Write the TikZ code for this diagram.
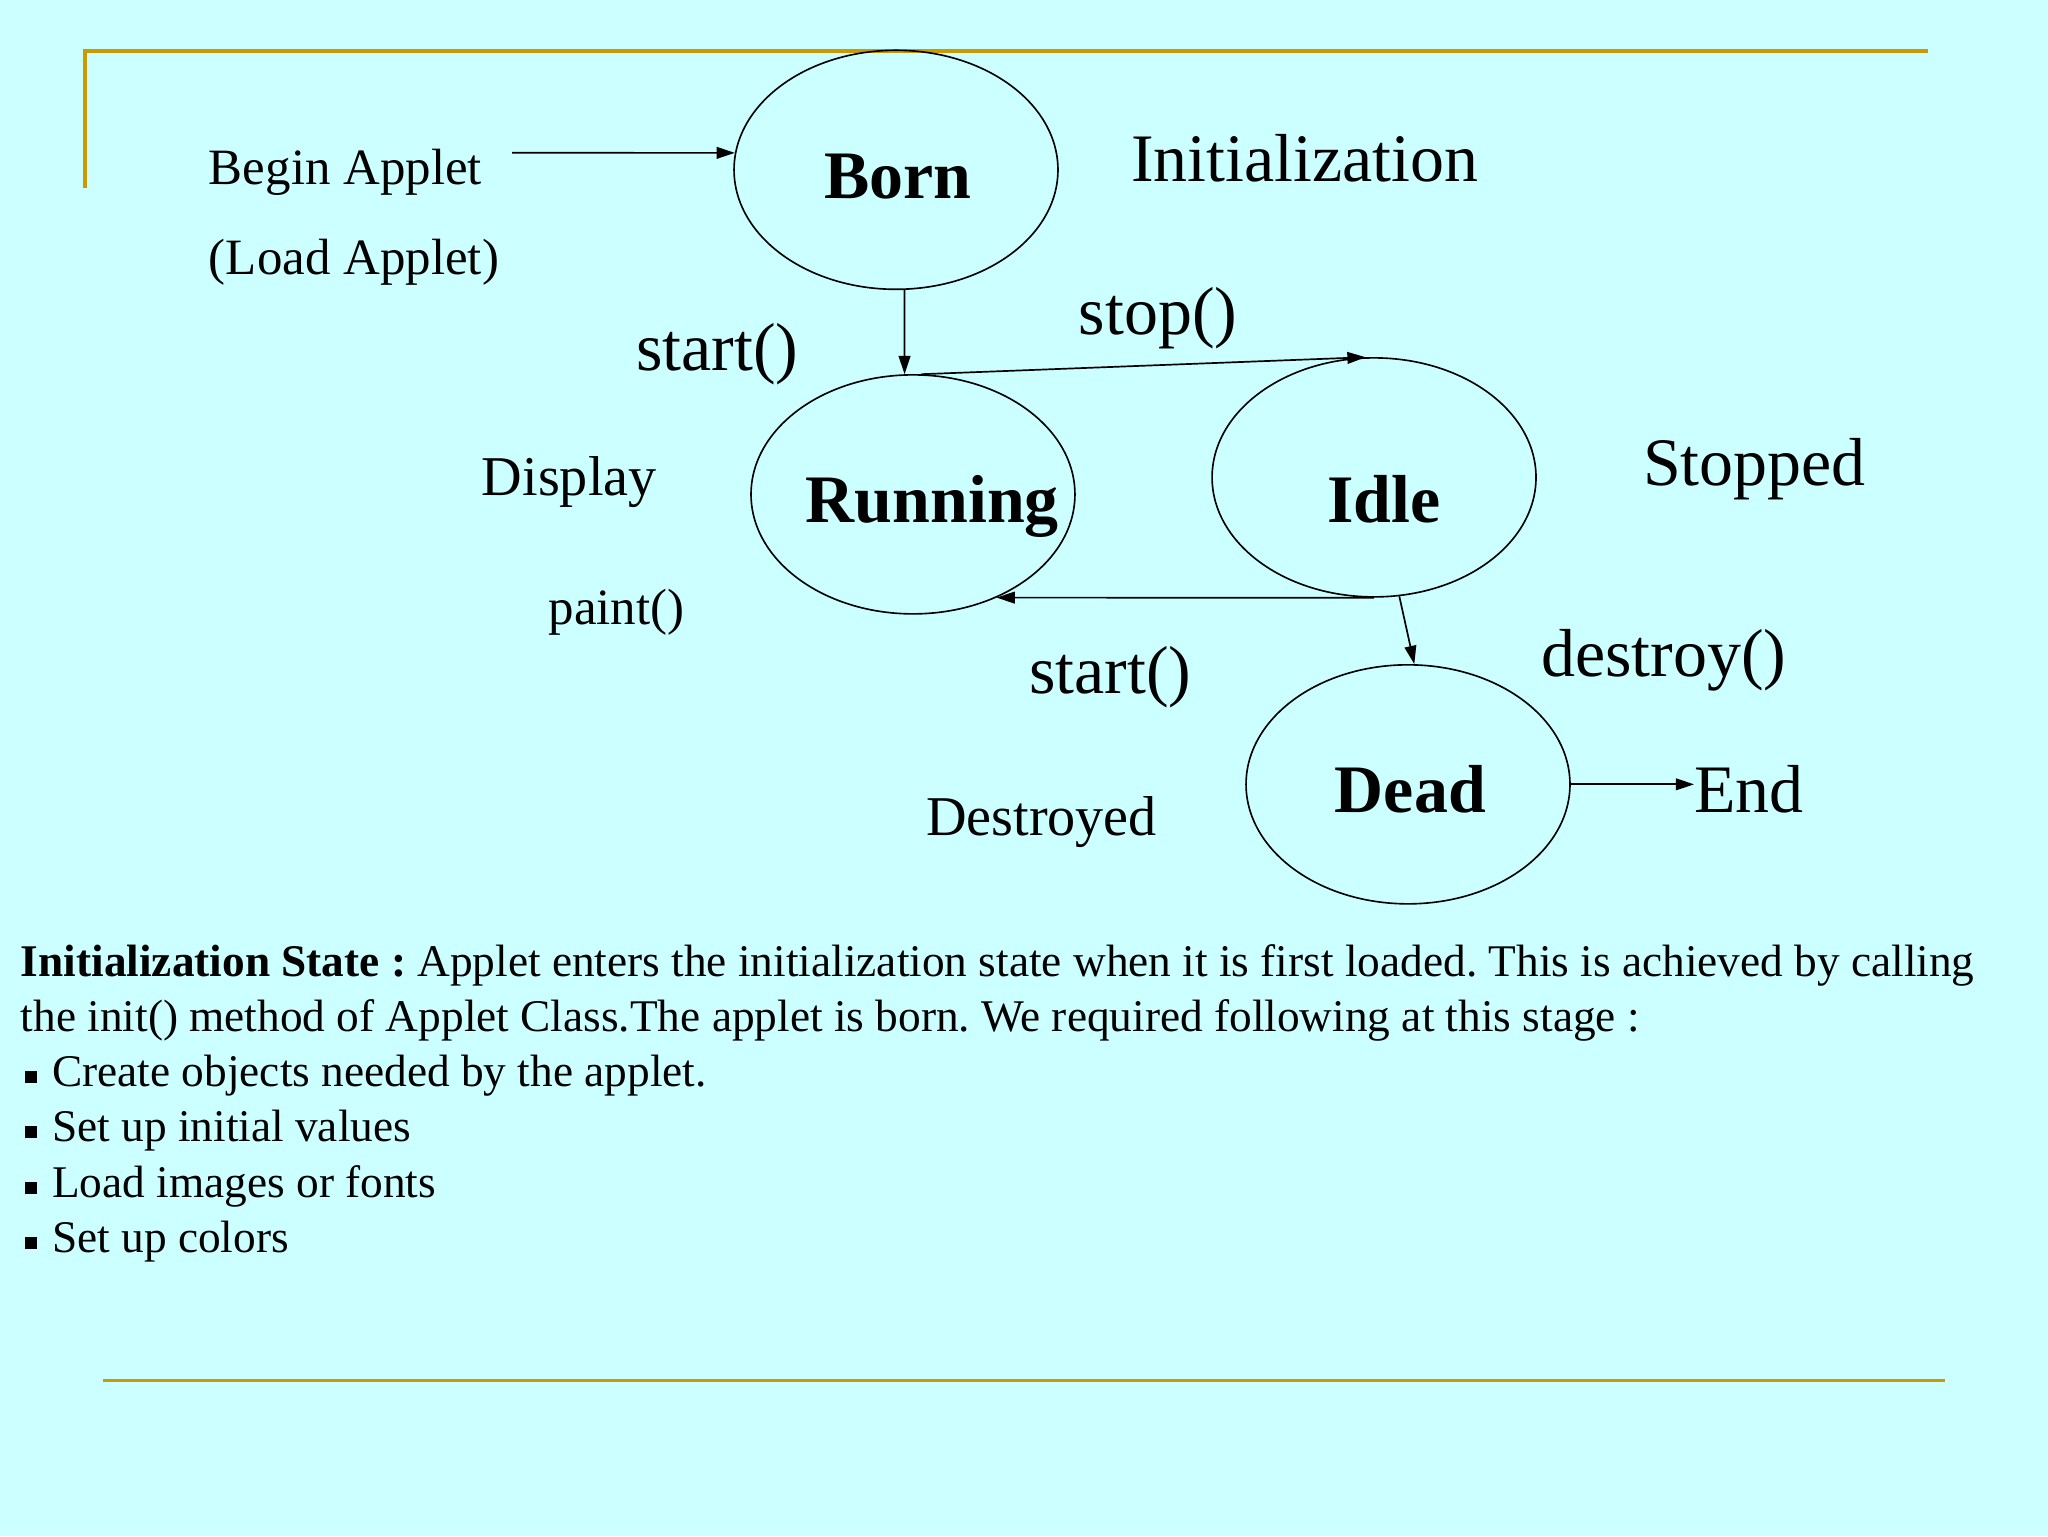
\documentclass[tikz,border=0pt]{standalone}
\usepackage{fontspec}
\setmainfont{Liberation Serif}
\usetikzlibrary{shapes.geometric,arrows.meta}
\definecolor{bg}{RGB}{204,255,255}
\definecolor{gold}{RGB}{204,153,0}
\frenchspacing
\begin{document}
\begin{tikzpicture}[x=1pt,y=-1pt,
  state/.style={draw=black,line width=1.25pt,ellipse,minimum width=248pt,minimum height=183pt,inner sep=0pt},
  txt/.style={anchor=base west,inner sep=0pt,outer sep=0pt},
  big/.style={txt,font=\fontsize{52}{60}\selectfont},
  mid/.style={txt,font=\fontsize{43}{50}\selectfont},
  small/.style={txt,font=\fontsize{39}{46}\selectfont},
  sname/.style={txt,font=\fontsize{52}{60}\selectfont\bfseries},
  para/.style={txt,font=\fontsize{34.7}{42}\selectfont},
  bul/.style={fill=black,draw=none,rectangle,minimum size=9pt,inner sep=0pt},
  conn/.style={line width=1.3pt,-{Triangle[length=14pt,width=9pt]}},
  rule/.style={draw=gold,line width=2.6pt}]
\useasboundingbox (0,0) rectangle (1568,1176);
\fill[bg] (0,0) rectangle (1568,1176);
% gold rules
\draw[rule,line cap=rect] (65,143) -- (65,39) -- (1475,39);
\draw[rule] (79,1057) -- (1489,1057);
% states
\node[state] (born) at (686,130) {};
\node[state] (running) at (699,378.5) {};
\node[state] (idle) at (1052,365.5) {};
\node[state] (dead) at (1078,600.5) {};
% state names
\node[sname] (tborn) at (631,152) {Born};
\node[sname] (trun) at (617,400) {Running};
\node[sname] (tidle) at (1016,400) {Idle};
\node[sname] (tdead) at (1022,622) {Dead};
% labels
\node[small] (begin) at (160,141) {Begin Applet};
\node[small] (load) at (160,210) {(Load Applet)};
\node[big] (init) at (866,139) {Initialization};
\node[big] (start1) at (487,284) {start()};
\node[big] (stop) at (826,256) {stop()};
\node[mid] (display) at (369,379) {Display};
\node[big] (stopped) at (1258,372) {Stopped};
\node[small] (paint) at (420,478) {paint()};
\node[big] (start2) at (788,531) {start()};
\node[big] (destroy) at (1180,518) {destroy()};
\node[mid] (destroyed) at (709,640) {Destroyed};
\node[big] (end) at (1297,622) {End};
% connectors
\coordinate (bstart) at (392,117);
\draw[conn] (bstart) -- (born.174);
\draw[conn] (born.274) -- (running.94);
\draw[conn] (running.86) -- (idle.94);
\draw[conn] (idle.south) -- (running.309);
\draw[conn] (idle.282) -- (dead.87);
\draw[conn] (dead.east) -- (dead.east -| end.west);
% paragraph
\node[para] (p1) at (16,748) {\textbf{Initialization State :} Applet enters the initialization state when it is first loaded. This is achieved by calling};
\node[para] (p2) at (16,790) {the init() method of Applet Class.The applet is born. We required following at this stage :};
\node[para] (p3) at (40,832) {Create objects needed by the applet.};
\node[para] (p4) at (40,874) {Set up initial values};
\node[para] (p5) at (40,917) {Load images or fonts};
\node[para] (p6) at (40,959) {Set up colors};
\node[bul] (b1) at (23.5,824.5) {};
\node[bul] (b2) at (23.5,866.5) {};
\node[bul] (b3) at (23.5,909.5) {};
\node[bul] (b4) at (23.5,951.5) {};
\end{tikzpicture}
\end{document}
